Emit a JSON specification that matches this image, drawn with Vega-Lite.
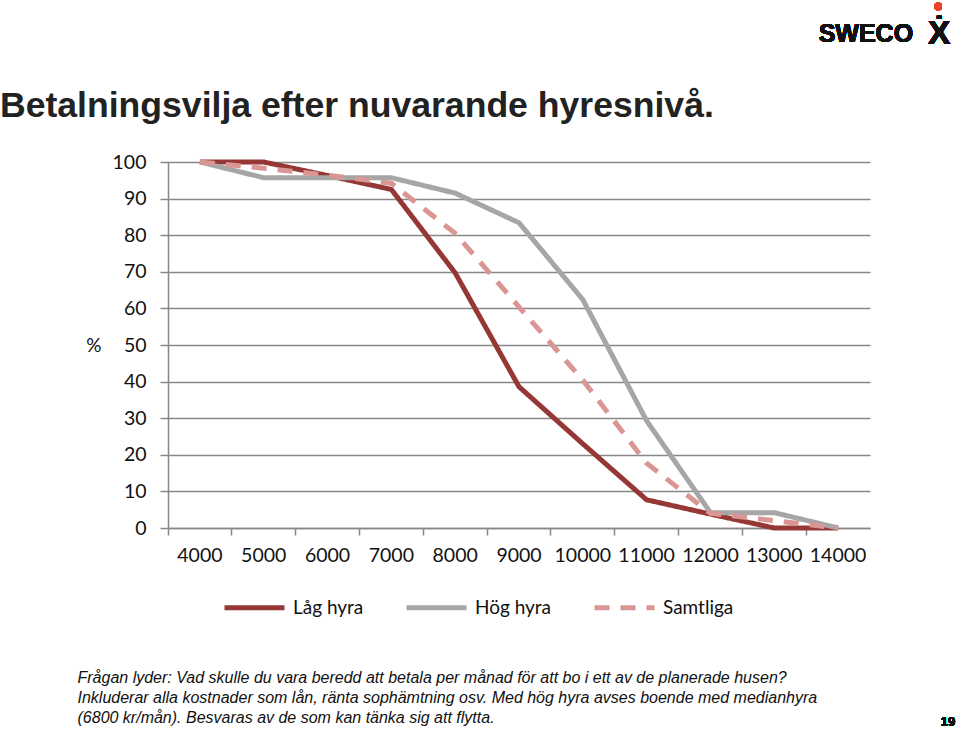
{
  "$schema": "https://vega.github.io/schema/vega-lite/v6.json",
  "width": 702,
  "height": 366,
  "autosize": {"type": "none"},
  "padding": {"left": 168, "top": 162, "right": 90, "bottom": 202},
  "background": "white",
  "title": {
    "text": "Betalningsvilja efter nuvarande hyresnivå.",
    "anchor": "start",
    "frame": "group",
    "dx": -168,
    "offset": -122,
    "font": "Liberation Sans",
    "fontSize": 35.6,
    "fontWeight": "bold",
    "color": "#222222"
  },
  "data": {
    "values": [
      {"hyra": "4000", "serie": "Låg hyra", "andel": 100},
      {"hyra": "5000", "serie": "Låg hyra", "andel": 100},
      {"hyra": "6000", "serie": "Låg hyra", "andel": 96.3},
      {"hyra": "7000", "serie": "Låg hyra", "andel": 92.5},
      {"hyra": "8000", "serie": "Låg hyra", "andel": 69.7},
      {"hyra": "9000", "serie": "Låg hyra", "andel": 38.6},
      {"hyra": "10000", "serie": "Låg hyra", "andel": 23.0},
      {"hyra": "11000", "serie": "Låg hyra", "andel": 7.7},
      {"hyra": "12000", "serie": "Låg hyra", "andel": 3.8},
      {"hyra": "13000", "serie": "Låg hyra", "andel": 0},
      {"hyra": "14000", "serie": "Låg hyra", "andel": 0},
      {"hyra": "4000", "serie": "Hög hyra", "andel": 100},
      {"hyra": "5000", "serie": "Hög hyra", "andel": 95.7},
      {"hyra": "6000", "serie": "Hög hyra", "andel": 95.7},
      {"hyra": "7000", "serie": "Hög hyra", "andel": 95.7},
      {"hyra": "8000", "serie": "Hög hyra", "andel": 91.5},
      {"hyra": "9000", "serie": "Hög hyra", "andel": 83.4},
      {"hyra": "10000", "serie": "Hög hyra", "andel": 62.4},
      {"hyra": "11000", "serie": "Hög hyra", "andel": 29.3},
      {"hyra": "12000", "serie": "Hög hyra", "andel": 4.2},
      {"hyra": "13000", "serie": "Hög hyra", "andel": 4.2},
      {"hyra": "14000", "serie": "Hög hyra", "andel": 0},
      {"hyra": "4000", "serie": "Samtliga", "andel": 100},
      {"hyra": "5000", "serie": "Samtliga", "andel": 98.3},
      {"hyra": "6000", "serie": "Samtliga", "andel": 96.4},
      {"hyra": "7000", "serie": "Samtliga", "andel": 94.2},
      {"hyra": "8000", "serie": "Samtliga", "andel": 80.5},
      {"hyra": "9000", "serie": "Samtliga", "andel": 60.4},
      {"hyra": "10000", "serie": "Samtliga", "andel": 40.4},
      {"hyra": "11000", "serie": "Samtliga", "andel": 17.7},
      {"hyra": "12000", "serie": "Samtliga", "andel": 4.0},
      {"hyra": "13000", "serie": "Samtliga", "andel": 2.0},
      {"hyra": "14000", "serie": "Samtliga", "andel": 0}
    ]
  },
  "config": {
    "view": {"stroke": null},
    "font": "Lato"
  },
  "resolve": {"axis": {"y": "independent", "x": "independent"}},
  "layer": [
    {
      "mark": {"type": "line", "strokeWidth": 5, "strokeJoin": "miter", "clip": false},
      "encoding": {
        "x": {
          "field": "hyra",
          "type": "ordinal",
          "sort": ["4000","5000","6000","7000","8000","9000","10000","11000","12000","13000","14000"],
          "scale": {"type": "band", "paddingInner": 0, "paddingOuter": 0},
          "axis": {
            "bandPosition": 0,
            "labelAngle": 0,
            "labelFont": "Lato",
            "labelFontSize": 19.5,
            "labelColor": "#111111",
            "labelPadding": 11,
            "labelBaseline": "top",
            "tickSize": 7,
            "tickColor": "#888888",
            "tickWidth": 1.5,
            "domainColor": "#888888",
            "domainWidth": 1.5,
            "grid": false,
            "title": [
              "Frågan lyder: Vad skulle du vara beredd att betala per månad för att bo i ett av de planerade husen?",
              "Inkluderar alla kostnader som lån, ränta sophämtning osv. Med hög hyra avses boende med medianhyra",
              "(6800 kr/mån). Besvaras av de som kan tänka sig att flytta."
            ],
            "titleFont": "Liberation Sans",
            "titleFontSize": 16,
            "titleFontStyle": "italic",
            "titleFontWeight": "normal",
            "titleColor": "#111111",
            "titleAnchor": "start",
            "titleAlign": "left",
            "titleBaseline": "top",
            "titleLineHeight": 20,
            "titleX": -91,
            "titleY": 141
          }
        },
        "y": {
          "field": "andel",
          "type": "quantitative",
          "scale": {"domain": [0, 100], "nice": false},
          "axis": {
            "values": [0,10,20,30,40,50,60,70,80,90,100],
            "labelOverlap": false,
            "labelFont": "Lato",
            "labelFontSize": 19.5,
            "labelColor": "#111111",
            "labelPadding": 14,
            "tickSize": 8,
            "tickColor": "#888888",
            "tickWidth": 1.5,
            "domainColor": "#888888",
            "domainWidth": 1.5,
            "gridColor": "#888888",
            "gridWidth": 1.5,
            "title": "%",
            "titleFont": "Lato",
            "titleFontSize": 19,
            "titleFontWeight": "normal",
            "titleColor": "#111111",
            "titleAngle": 0,
            "titleAlign": "right",
            "titleBaseline": "middle",
            "titleX": -67,
            "titleY": 183
          }
        },
        "color": {
          "field": "serie",
          "type": "nominal",
          "scale": {"domain": ["Låg hyra","Hög hyra","Samtliga"], "range": ["#953735","#a6a6a6","#d99694"]},
          "legend": {
            "orient": "none",
            "direction": "horizontal",
            "legendX": 54,
            "legendY": 413,
            "title": null,
            "symbolType": "stroke",
            "symbolSize": 3600,
            "symbolStrokeWidth": 5,
            "labelFont": "Lato",
            "labelFontSize": 19,
            "labelColor": "#111111",
            "labelOffset": 6,
            "columnPadding": 32,
            "padding": 0
          }
        },
        "strokeDash": {
          "field": "serie",
          "type": "nominal",
          "scale": {"domain": ["Låg hyra","Hög hyra","Samtliga"], "range": [[1,0],[1,0],[15,11]]},
          "legend": null
        }
      }
    },
    {
      "mark": {"type": "text", "font": "Liberation Sans", "fontWeight": "bold", "fontSize": 25, "align": "right", "baseline": "middle", "dx": 75, "clip": false, "color": "#111111"},
      "encoding": {
        "x": {"datum": "14000", "axis": null},
        "y": {"datum": 135, "type": "quantitative", "axis": null},
        "text": {"value": "SWECO"}
      }
    },
    {
      "mark": {"type": "text", "font": "Liberation Sans", "fontWeight": "bold", "fontSize": 34, "align": "center", "baseline": "middle", "dx": 101, "clip": false, "color": "#111111"},
      "encoding": {
        "x": {"datum": "14000", "axis": null},
        "y": {"datum": 135, "type": "quantitative", "axis": null},
        "text": {"value": "Ẋ"}
      }
    },
    {
      "mark": {"type": "point", "filled": true, "size": 60, "xOffset": 100, "clip": false, "color": "#e8442a", "opacity": 1},
      "encoding": {
        "x": {"datum": "14000", "axis": null},
        "y": {"datum": 142.5, "type": "quantitative", "axis": null}
      }
    },
    {
      "mark": {"type": "text", "font": "Liberation Sans", "fontWeight": "bold", "fontSize": 13, "align": "center", "dx": 110, "clip": false, "color": "#111111"},
      "encoding": {
        "x": {"datum": "14000", "axis": null},
        "y": {"datum": -53, "type": "quantitative", "axis": null},
        "text": {"value": "19"}
      }
    }
  ]
}
